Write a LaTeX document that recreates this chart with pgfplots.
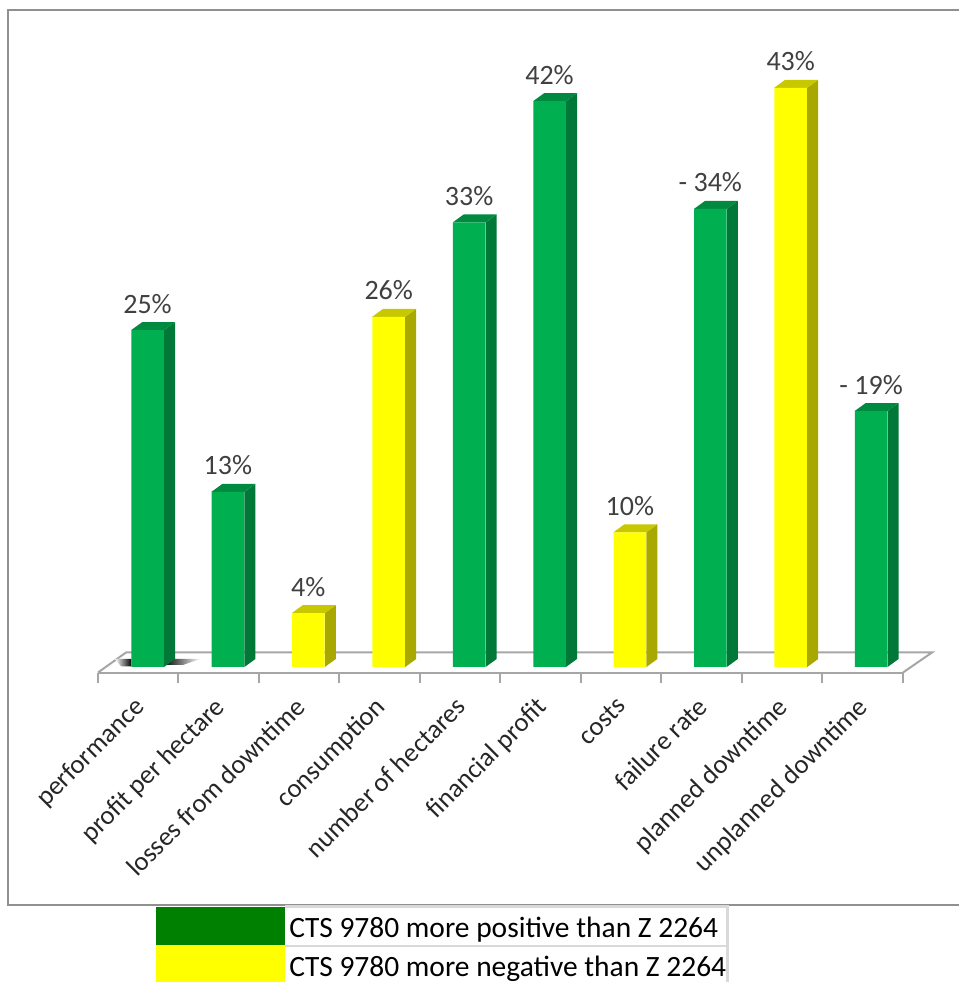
\documentclass[border=0pt]{standalone}
\usepackage{pgfplots}
\pgfplotsset{compat=1.18}
\usepackage{fontspec}
\setmainfont{Carlito}

\definecolor{grn}{HTML}{00B050}
\definecolor{grnside}{HTML}{007837}
\definecolor{grntop}{HTML}{008A40}
\definecolor{yel}{HTML}{FFFF00}
\definecolor{yelside}{HTML}{A8A800}
\definecolor{yeltop}{HTML}{C8C800}
\definecolor{frame}{HTML}{909090}
\definecolor{floorline}{HTML}{A6A6A6}
\definecolor{cell}{HTML}{D9D9D9}
\definecolor{legendgreen}{HTML}{008000}

% picture pixels to axis coordinates
\newcommand{\pxc}[2]{(axis cs:{(#1-147.5)/80.4},{(667-#2)/13.47})}
% side and top faces of one bar: position, value, colour prefix
\newcommand{\barfaces}[3]{%
  \addplot[draw=none,fill=#3side] coordinates {({#1+0.205},0) ({#1+0.342},0.594) ({#1+0.342},{#2+0.594}) ({#1+0.205},#2)} -- cycle;
  \addplot[draw=none,fill=#3top] coordinates {({#1-0.205},#2) ({#1-0.068},{#2+0.594}) ({#1+0.342},{#2+0.594}) ({#1+0.205},#2)} -- cycle;
}

\begin{document}
\begin{tikzpicture}
\begin{axis}[
    name=ax,
    x=60.3pt, y=10.1025pt,
    xmin=-0.616, xmax=9.397,
    ymin=-0.41, ymax=49.5,
    clip=false,
    axis x line*=bottom,
    axis y line=none,
    axis line style={floorline,line width=1.5pt},
    xtick={0,...,9},
    xticklabels={performance,profit per hectare,losses from downtime,consumption,number of hectares,financial profit,costs,failure rate,planned downtime,unplanned downtime},
    minor xtick={-0.616,0.385,1.386,2.387,3.388,4.39,5.391,6.392,7.393,8.394,9.397},
    major tick length=0pt,
    minor tick length=7.5pt,
    tick align=outside,
    minor tick style={floorline,line width=1.5pt},
    x tick label style={rotate=45,anchor=north east,font=\fontsize{20}{24}\selectfont,text=black!85,xshift=-19.93pt,yshift=-4.1pt,inner sep=0pt},
    nodes near coords,
    point meta=explicit symbolic,
    every node near coord/.append style={anchor=base,yshift=12.75pt,inner sep=0pt,font=\fontsize{21}{24}\selectfont,text=black!75},
]
% floor
\draw[floorline,line width=1.5pt] \pxc{98}{672.5} -- \pxc{126}{652.5} -- \pxc{932}{652.5} -- \pxc{903}{672.5};

% shadow at the first bar
\addplot[draw=none,left color=white,right color=black,nodes near coords={}] coordinates {(-0.405,0.6) (-0.2,0.6) (-0.2,0.05) (-0.33,0.05)} -- cycle;
\addplot[draw=none,left color=black,right color=white,nodes near coords={}] coordinates {(0.2,0.6) (0.66,0.6) (0.44,0.15) (0.2,0.15)} -- cycle;

\barfaces{0}{25}{grn}
\barfaces{1}{13}{grn}
\barfaces{2}{4}{yel}
\barfaces{3}{26}{yel}
\barfaces{4}{33}{grn}
\barfaces{5}{42}{grn}
\barfaces{6}{10}{yel}
\barfaces{7}{34}{grn}
\barfaces{8}{43}{yel}
\barfaces{9}{19}{grn}

\addplot[ybar,bar width=24.4pt,bar shift=0pt,draw=none,fill=grn] coordinates {
    (0,25) [25\%]
    (1,13) [13\%]
    (4,33) [33\%]
    (5,42) [42\%]
    (7,34) [- 34\%]
    (9,19) [- 19\%]
};
\addplot[ybar,bar width=24.4pt,bar shift=0pt,draw=none,fill=yel] coordinates {
    (2,4) [4\%]
    (3,26) [26\%]
    (6,10) [10\%]
    (8,43) [43\%]
};

% outer frame
\draw[frame,line width=1.5pt] \pxc{960}{10} -- \pxc{8}{10} -- \pxc{8}{905} -- \pxc{960}{905};

% legend table under the frame
\fill[cell] \pxc{285}{905} rectangle \pxc{729}{908};
\fill[cell] \pxc{285}{945} rectangle \pxc{729}{947};
\fill[cell] \pxc{726}{905} rectangle \pxc{729}{982};
\fill[legendgreen] \pxc{156}{907} rectangle \pxc{285}{945};
\fill[yel] \pxc{156}{945} rectangle \pxc{285}{982};
\node[anchor=base west,inner sep=0pt,font=\fontsize{22.1}{24}\selectfont,text=black] at \pxc{289}{938} {CTS 9780 more positive than Z 2264};
\node[anchor=base west,inner sep=0pt,font=\fontsize{22.1}{24}\selectfont,text=black] at \pxc{289}{977} {CTS 9780 more negative than Z 2264};
\end{axis}
\pgfresetboundingbox
\path ([shift={(-73.5pt,-232.125pt)}]ax.south west) rectangle ([shift={(645pt,504.375pt)}]ax.south west);
\end{tikzpicture}
\end{document}
